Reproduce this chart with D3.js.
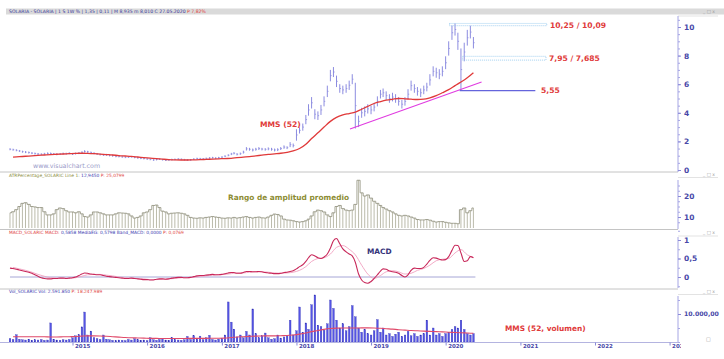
<!DOCTYPE html>
<html><head><meta charset="utf-8">
<script src="https://cdn.jsdelivr.net/npm/d3@7"></script>
<style>body{margin:0;background:#fff}svg{display:block;font-family:"DejaVu Sans",Verdana,sans-serif}</style>
</head><body><svg id="c" width="724" height="359"></svg>
<script>
// ---- data (semi-monthly bars, Mar 2014 .. May 2020) ----
const priceHigh=[1.52,1.49,1.45,1.40,1.35,1.32,1.29,1.25,1.22,1.19,1.17,1.20,1.23,1.22,1.19,1.17,1.19,1.22,1.21,1.24,1.19,1.22,1.25,1.31,1.38,1.34,1.29,1.24,1.19,1.15,1.12,1.13,1.09,1.07,1.03,1.02,0.99,0.95,0.96,0.98,0.94,0.91,0.88,0.86,0.83,0.80,0.76,0.79,0.82,0.78,0.75,0.76,0.79,0.80,0.83,0.81,0.78,0.76,0.77,0.82,0.86,0.85,0.84,0.87,0.90,0.92,0.89,0.92,0.96,1.03,1.10,1.20,1.25,1.18,1.22,1.35,1.60,1.55,1.50,1.55,1.60,1.55,1.53,1.58,1.55,1.50,1.52,1.60,1.72,1.66,1.95,1.85,2.85,3.00,3.25,3.85,4.60,5.10,4.25,4.10,4.55,5.15,5.90,7.00,7.20,6.60,6.00,5.90,6.00,6.25,6.70,6.10,3.80,4.35,4.45,4.60,4.50,4.70,5.15,5.60,5.70,5.50,5.30,5.40,5.30,5.10,4.90,5.10,5.65,6.25,6.00,5.80,5.70,5.90,6.10,6.70,7.25,7.15,7.05,7.25,7.95,9.00,10.10,10.25,9.60,8.50,8.90,9.80,10.09,9.30];
const priceLow=[1.38,1.35,1.31,1.26,1.21,1.18,1.15,1.11,1.08,1.05,1.03,1.06,1.09,1.08,1.05,1.03,1.05,1.08,1.07,1.10,1.05,1.08,1.11,1.17,1.22,1.20,1.15,1.10,1.05,1.01,0.98,0.99,0.95,0.93,0.89,0.88,0.85,0.83,0.84,0.86,0.82,0.79,0.76,0.74,0.71,0.68,0.64,0.67,0.70,0.66,0.63,0.64,0.67,0.68,0.71,0.69,0.66,0.64,0.65,0.70,0.74,0.73,0.72,0.75,0.78,0.80,0.77,0.80,0.84,0.89,0.96,1.04,1.09,1.02,1.06,1.15,1.36,1.35,1.30,1.35,1.40,1.37,1.35,1.38,1.35,1.30,1.32,1.40,1.48,1.46,1.60,1.58,2.05,2.55,2.75,3.20,3.80,4.30,3.55,3.50,3.85,4.45,5.10,6.20,6.50,5.80,5.40,5.30,5.40,5.60,6.00,2.90,3.00,3.65,3.75,3.95,3.90,4.10,4.45,5.00,5.10,4.90,4.70,4.80,4.70,4.50,4.30,4.50,4.95,5.55,5.40,5.20,5.10,5.30,5.50,5.90,6.55,6.45,6.35,6.55,7.05,8.00,9.10,9.40,8.40,5.55,7.60,8.70,9.20,8.50];
const atrPct=[12.0,12.5,13.5,15.0,16.5,16.8,16.0,15.0,14.8,14.5,14.5,12.5,11.0,11.0,11.5,13.5,14.3,14.0,13.0,12.4,12.4,12.0,12.5,11.5,10.2,10.0,11.0,12.4,12.4,12.0,11.5,11.0,11.0,11.0,11.5,12.0,11.9,11.8,11.5,10.5,9.5,9.8,10.5,12.0,12.4,13.5,15.5,15.7,14.5,12.8,12.4,11.5,11.8,11.9,12.0,11.8,11.5,10.8,9.8,9.5,9.4,9.6,9.5,9.8,10.0,10.2,10.0,9.8,9.5,9.4,9.6,9.5,9.8,9.5,9.7,10.0,10.2,9.8,9.5,9.8,10.0,9.6,9.5,10.0,10.8,11.4,11.2,10.5,9.0,8.6,8.5,8.2,7.8,7.6,7.8,8.2,9.0,10.5,12.5,13.3,13.0,12.4,11.0,10.2,12.0,15.0,15.5,14.0,13.3,13.0,13.3,16.0,27.5,21.5,20.0,20.5,19.0,17.5,16.5,15.5,14.5,13.8,13.0,12.4,11.5,10.8,10.5,10.8,10.5,10.0,9.5,8.8,8.6,8.6,8.8,8.5,8.0,7.6,7.8,7.8,7.5,7.2,7.0,7.0,6.8,13.5,14.3,12.0,13.0,14.3];
const macd=[0.24,0.23,0.21,0.19,0.17,0.15,0.13,0.10,0.06,0.02,-0.02,-0.04,-0.05,-0.05,-0.04,-0.04,-0.03,-0.03,-0.04,-0.03,-0.02,0.00,0.04,0.08,0.11,0.10,0.08,0.07,0.06,0.06,0.04,0.02,0.01,0.00,-0.01,-0.02,-0.03,-0.04,-0.04,-0.03,-0.04,-0.05,-0.06,-0.07,-0.07,-0.08,-0.08,-0.06,-0.05,-0.05,-0.06,-0.05,-0.03,-0.02,-0.01,-0.01,-0.02,-0.02,-0.01,0.01,0.03,0.04,0.04,0.05,0.06,0.07,0.06,0.06,0.07,0.09,0.11,0.12,0.12,0.10,0.10,0.12,0.15,0.15,0.14,0.14,0.15,0.14,0.12,0.11,0.10,0.09,0.09,0.10,0.12,0.13,0.15,0.17,0.22,0.28,0.33,0.42,0.52,0.60,0.57,0.52,0.50,0.54,0.62,0.78,0.98,1.04,0.90,0.76,0.68,0.62,0.57,0.40,0.08,-0.08,-0.15,-0.17,-0.12,-0.04,0.06,0.16,0.22,0.21,0.16,0.14,0.13,0.10,0.04,0.00,0.06,0.18,0.24,0.23,0.23,0.26,0.35,0.45,0.52,0.51,0.48,0.46,0.47,0.55,0.72,0.86,0.85,0.65,0.42,0.44,0.55,0.52];
const volume=[1200,900,2600,1000,800,700,1000,600,800,700,900,600,700,6800,1000,700,600,800,700,900,1500,2200,2600,5400,10700,2500,3900,1500,1200,900,2500,1000,800,600,500,700,600,500,900,700,1200,800,600,700,500,1500,800,600,900,1300,700,600,1600,900,700,600,800,2000,900,2200,1000,2100,800,1500,2400,900,700,1000,1300,2500,14300,7100,4600,1800,2500,1500,3800,2500,11800,3000,1500,2200,3200,1500,1000,1200,2500,1400,1800,2200,7800,2500,4000,12500,3500,6800,4500,13300,16800,6000,5500,4200,6500,15000,12000,7800,5000,6500,4000,5500,13000,9000,5000,3500,4500,3000,2500,4000,8000,3500,5000,2500,3000,2000,2800,3500,2000,2500,3800,2200,3000,2000,2500,3000,7800,2500,5000,2500,3000,2000,3000,3500,4500,5500,5000,7800,4500,3000,2500,3000];
// ---- monthly smooth lines (mid-month, Mar 2014 .. May 2020) ----
const mms52=[0.90,0.93,0.96,0.99,1.02,1.05,1.08,1.10,1.12,1.14,1.16,1.17,1.16,1.14,1.11,1.08,1.05,1.01,0.98,0.95,0.91,0.87,0.83,0.79,0.76,0.73,0.71,0.70,0.70,0.71,0.72,0.74,0.76,0.78,0.80,0.82,0.86,0.90,0.94,0.99,1.04,1.09,1.13,1.17,1.24,1.33,1.50,1.80,2.20,2.60,3.00,3.40,3.68,3.85,3.95,4.05,4.25,4.45,4.65,4.78,4.88,4.95,5.00,4.98,4.95,4.93,4.95,5.05,5.20,5.40,5.62,5.90,6.15,6.45,6.80];
const macdSignal=[0.26,0.22,0.18,0.13,0.07,0.02,-0.02,-0.03,-0.03,-0.03,-0.02,0.02,0.06,0.07,0.07,0.05,0.03,0.00,-0.02,-0.03,-0.04,-0.05,-0.07,-0.07,-0.06,-0.05,-0.04,-0.02,-0.02,-0.01,0.01,0.03,0.05,0.06,0.07,0.09,0.11,0.11,0.13,0.14,0.14,0.13,0.11,0.10,0.11,0.13,0.18,0.28,0.42,0.50,0.52,0.62,0.80,0.85,0.75,0.60,0.32,0.08,-0.04,0.04,0.14,0.17,0.14,0.08,0.10,0.18,0.23,0.32,0.44,0.48,0.50,0.65,0.74,0.60,0.53];
const volMA=[1900,1900,1900,1900,1850,1850,1800,1800,1850,1900,1950,2100,2200,2200,2150,2050,1900,1750,1600,1500,1450,1400,1300,1300,1250,1250,1250,1250,1300,1300,1300,1300,1350,1350,1400,1600,1800,1900,2000,2100,2150,2200,2200,2250,2300,2500,2800,3200,3700,4100,4500,4800,4950,5000,5000,5000,5050,5050,5000,4900,4750,4600,4400,4250,4100,4000,3900,3800,3700,3600,3500,3400,3300,3200,3100];
// ---- annotations / ticks ----
const years=[2015,2016,2017,2018,2019,2020,2021,2022,2023];
const priceTicks=[0,2,4,6,8,10];
const atrTicks=[10,20];
const macdTicks=[0,0.5,1];
const volTicks=[10000];
const levelHigh=[10.25,10.09], levelMid=[7.95,7.685], levelLow=5.55;
const trendStart={d:new Date(2018,8,20),v:2.87}, trendEnd={d:new Date(2020,5,25),v:6.15};

const semi=priceHigh.map((_,i)=>new Date(2014,2+Math.floor(i/2),i%2?16:1));
const monthly=mms52.map((_,m)=>new Date(2014,2+m,16));
const svg=d3.select("#c");
const loc=d3.formatLocale({decimal:",",thousands:".",grouping:[3],currency:["","€"]});
const x=d3.scaleTime().domain([new Date(2015,0,1),new Date(2022,0,1)]).range([72.5,595]);
const yP=d3.scaleLinear().domain([0,10]).range([170,27]);
const yA=d3.scaleLinear().domain([10,20]).range([217,196]);
const yM=d3.scaleLinear().domain([0,1]).range([277,240]);
const yV=d3.scaleLinear().domain([0,10000]).range([342,314]);
const AX=678, blue="#4848a8";

// header bar
svg.append("rect").attr("x",6).attr("y",8.5).attr("width",718).attr("height",6).attr("fill","#dadada");
const hdr=svg.append("text").attr("x",9).attr("y",13.3).attr("font-size",4.6).attr("fill","#3a3a9a");
hdr.append("tspan").text("SOLARIA - SOLARIA | 1 S 1W % | 1,35 | 0,11 | M 8,935 m 8,010 C 27.05.2020 ");
hdr.append("tspan").attr("fill","#e04040").text("P 7,82%");
// panel icons
[12.5,176,233.5,292.5].forEach(yy=>svg.append("text").attr("x",703).attr("y",yy).attr("font-size",4.5).attr("fill","#999").text("_ □ x"));
// separators
[[172,0,AX],[229.5,0,AX],[289,0,AX]].forEach(([yy,a,b])=>svg.append("line").attr("x1",a).attr("x2",b).attr("y1",yy).attr("y2",yy).attr("stroke","#c4c4c4"));
[177.5,236,294.5].forEach(yy=>svg.append("line").attr("x1",AX).attr("x2",718).attr("y1",yy).attr("y2",yy).attr("stroke","#d0d0d0").attr("stroke-width",0.6));
svg.append("line").attr("x1",AX).attr("x2",718).attr("y1",16).attr("y2",16).attr("stroke","#d0d0d0").attr("stroke-width",0.6);

// ---- price panel ----
svg.append("text").attr("x",33).attr("y",168).attr("font-size",6.3).attr("fill","#9a9ac8").text("www.visualchart.com");
svg.append("g").selectAll("line").data(priceHigh).join("line")
  .attr("x1",(d,i)=>x(semi[i])).attr("x2",(d,i)=>x(semi[i]))
  .attr("y1",d=>yP(d)).attr("y2",(d,i)=>yP(priceLow[i]))
  .attr("stroke","#8c8ce0").attr("stroke-width",1);
svg.append("g").selectAll("line").data(priceHigh).join("line")
  .attr("x1",(d,i)=>x(semi[i])).attr("x2",(d,i)=>x(semi[i])+1.2)
  .attr("y1",(d,i)=>yP((d+priceLow[i])/2)).attr("y2",(d,i)=>yP((d+priceLow[i])/2))
  .attr("stroke","#8c8ce0").attr("stroke-width",0.8);
svg.append("path").datum(mms52).attr("fill","none").attr("stroke","#e03a3a").attr("stroke-width",1.3)
  .attr("d",d3.line().x((d,i)=>x(monthly[i])).y(d=>yP(d)).curve(d3.curveMonotoneX));
svg.append("line").attr("x1",x(trendStart.d)).attr("y1",yP(trendStart.v)).attr("x2",x(trendEnd.d)).attr("y2",yP(trendEnd.v)).attr("stroke","#e03ce0").attr("stroke-width",1.1);
// levels
function box(lv,d0,d1){svg.append("rect").attr("x",x(d0)).attr("width",x(d1)-x(d0)).attr("y",yP(lv[0])).attr("height",yP(lv[1])-yP(lv[0]))
  .attr("fill","none").attr("stroke","#8cc4ec").attr("stroke-width",0.8).attr("stroke-dasharray","1,1");}
box(levelHigh,new Date(2020,0,20),new Date(2021,4,10));
box(levelMid,new Date(2020,2,24),new Date(2021,4,6));
svg.append("line").attr("x1",x(new Date(2020,2,10))).attr("x2",x(new Date(2021,2,15))).attr("y1",yP(levelLow)).attr("y2",yP(levelLow)).attr("stroke","#6464dc").attr("stroke-width",1.1);
const lab=(t,xx,yy,c,fs)=>svg.append("text").attr("x",xx).attr("y",yy).attr("font-size",fs||7.6).attr("font-weight","bold").attr("fill",c).text(t);
lab(loc.format(",.2f")(levelHigh[0])+" / "+loc.format(",.2f")(levelHigh[1]),550,27.5,"#e03a3a");
lab(loc.format(",.2f")(levelMid[0])+" / "+loc.format(",.3f")(levelMid[1]),549,60.5,"#e03a3a");
lab(loc.format(",.2f")(levelLow),541,93,"#e03a3a");
lab("MMS (52)",260,127,"#e03a3a");

// axes helper
function rAxis(scale,major,minor,fmt,y0,y1,fs){
  svg.append("line").attr("x1",AX).attr("x2",AX).attr("y1",y0).attr("y2",y1).attr("stroke","#a6a6e4");
  const gm=svg.append("g").attr("transform",`translate(${AX},0)`).call(d3.axisRight(scale).tickValues(minor).tickSize(2).tickFormat(""));
  gm.select(".domain").remove(); gm.selectAll("line").attr("stroke","#a6a6e4");
  const g=svg.append("g").attr("transform",`translate(${AX},0)`).call(d3.axisRight(scale).tickValues(major).tickSize(3).tickPadding(3).tickFormat(fmt));
  g.select(".domain").remove(); g.selectAll("line").attr("stroke","#8a8ad8");
  g.selectAll("text").attr("font-size",fs||7.5).attr("font-weight","bold").attr("fill",blue).attr("font-family","DejaVu Sans, sans-serif");
}
rAxis(yP,priceTicks,d3.range(0,11,0.5),d=>d,16,172);

// ---- ATR panel ----
const h2=svg.append("text").attr("x",9).attr("y",177.3).attr("font-size",4.4).attr("fill","#8a8a40");
h2.append("tspan").text("ATRPercentage_SOLARIC Line 1: ");
h2.append("tspan").attr("fill","#3a3ab0").text("12,9450 ");
h2.append("tspan").attr("fill","#e04040").text("P: 25,0799");
svg.append("g").selectAll("line").data(atrPct).join("line")
  .attr("x1",(d,i)=>x(semi[i])).attr("x2",(d,i)=>x(semi[i]))
  .attr("y1",228).attr("y2",d=>yA(d)).attr("stroke","#a9a996").attr("stroke-width",0.8);
svg.append("path").datum(atrPct).attr("fill","none").attr("stroke","#8d8d78").attr("stroke-width",0.8)
  .attr("d",d3.line().x((d,i)=>x(semi[i])).y(d=>yA(d)).curve(d3.curveStep));
lab("Rango de amplitud promedio",228,200,"#8c8c32",7.4);
rAxis(yA,atrTicks,[7.5,10,12.5,15,17.5,20,22.5,25],d=>d,180,229);

// ---- MACD panel ----
const h3=svg.append("text").attr("x",9).attr("y",233.6).attr("font-size",4.4).attr("fill","#e04040");
h3.append("tspan").text("MACD_SOLARIC MACD: ");
h3.append("tspan").attr("fill","#3a3ab0").text("0,5858 MediaEG: 0,5798 Band_MACD: 0,0000 ");
h3.append("tspan").attr("fill","#e04040").text("P: 0,0769");
svg.append("line").attr("x1",x(semi[0])).attr("x2",x(semi[semi.length-1])+2).attr("y1",yM(0)).attr("y2",yM(0)).attr("stroke","#a6a6d6").attr("stroke-width",1);
svg.append("path").datum(macdSignal).attr("fill","none").attr("stroke","#f0a0c0").attr("stroke-width",0.9)
  .attr("d",d3.line().x((d,i)=>x(monthly[i])).y(d=>yM(d)).curve(d3.curveMonotoneX));
svg.append("path").datum(macd).attr("fill","none").attr("stroke","#c8285a").attr("stroke-width",1.1)
  .attr("d",d3.line().x((d,i)=>x(semi[i])).y(d=>yM(d)).curve(d3.curveMonotoneX));
lab("MACD",367,254,"#34347a",7.4);
rAxis(yM,macdTicks,[-0.25,0,0.25,0.5,0.75,1,1.25],d=>loc.format(",")(d),237,288);

// ---- Volume panel ----
const h4=svg.append("text").attr("x",9).attr("y",293.3).attr("font-size",4.4).attr("fill","#3a3ab0");
h4.append("tspan").text("Vol_SOLARIC Vol: 2.591.850 ");
h4.append("tspan").attr("fill","#e04040").text("P: 18.247.989");
svg.append("g").selectAll("rect").data(volume).join("rect")
  .attr("x",(d,i)=>x(semi[i])-0.8).attr("width",1.7)
  .attr("y",d=>yV(d)).attr("height",d=>yV(0)-yV(d))
  .attr("fill","#5454e4").attr("stroke","#3030b0").attr("stroke-width",0.3);
svg.append("path").datum(volMA).attr("fill","none").attr("stroke","#e04a6a").attr("stroke-width",1.1)
  .attr("d",d3.line().x((d,i)=>x(monthly[i])).y(d=>yV(d)).curve(d3.curveMonotoneX));
lab("MMS (52, volumen)",505,331,"#e03a3a",7.4);
rAxis(yV,volTicks,[0,5000,10000,15000],d=>loc.format(",.2f")(d),296,342,6.2);
svg.append("text").attr("x",706).attr("y",341).attr("font-size",5).attr("fill","#999").text("□");

// ---- x axis ----
svg.append("line").attr("x1",0).attr("x2",AX).attr("y1",342.5).attr("y2",342.5).attr("stroke","#b4b4e0");
svg.append("clipPath").attr("id","xc").append("rect").attr("x",0).attr("y",330).attr("width",AX+3).attr("height",29);
const gxo=svg.append("g").attr("clip-path","url(#xc)");
const gx=gxo.append("g").attr("transform","translate(0,342.5)")
  .call(d3.axisBottom(x).tickValues(years.map(y=>new Date(y,0,1))).tickSize(3).tickFormat(d3.timeFormat("%Y")));
gx.select(".domain").remove(); gx.selectAll("line").attr("stroke","#8a8ad8");
gx.selectAll("text").attr("text-anchor","start").attr("dx",2).attr("dy",-1).attr("font-size",5.5).attr("font-weight","bold").attr("fill",blue).attr("font-family","DejaVu Sans, sans-serif");
</script></body></html>
